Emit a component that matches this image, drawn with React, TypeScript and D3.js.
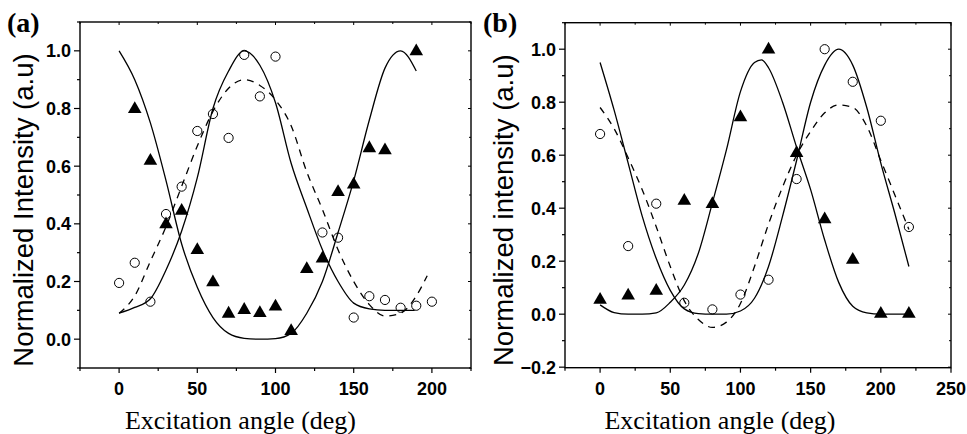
import React, { useEffect, useRef } from "react";
import * as d3 from "d3";

// ---- panel (a) data ----
const aCircleX = [0, 10, 20, 30, 40, 50, 60, 70, 80, 90, 100, 130, 140, 150, 160, 170, 180, 190, 200];
const aCircleY = [0.195, 0.265, 0.13, 0.434, 0.529, 0.722, 0.781, 0.698, 0.986, 0.842, 0.98, 0.37, 0.352, 0.075, 0.149, 0.136, 0.109, 0.116, 0.13];
const aTriX = [10, 20, 30, 40, 50, 60, 70, 80, 90, 100, 110, 120, 130, 140, 150, 160, 170, 190];
const aTriY = [0.8, 0.62, 0.4, 0.447, 0.311, 0.199, 0.09, 0.103, 0.092, 0.115, 0.03, 0.245, 0.281, 0.512, 0.538, 0.664, 0.657, 1.0];
// fitted curves
const aFitTriX = [0, 10, 20, 30, 40, 50, 60, 70, 80, 90, 100, 110, 120, 130, 140, 150, 160, 170, 180, 190];
const aFitTriY = [1.0, 0.9, 0.75, 0.55, 0.33, 0.18, 0.075, 0.02, 0.003, 0, 0.002, 0.02, 0.09, 0.2, 0.37, 0.55, 0.76, 0.94, 1.0, 0.93];
const aFitCircX = [0, 10, 20, 30, 40, 50, 60, 70, 80, 90, 100, 110, 120, 130, 140, 150, 160, 170, 180, 189];
const aFitCircY = [0.09, 0.11, 0.14, 0.24, 0.375, 0.56, 0.8, 0.93, 1.0, 0.95, 0.82, 0.61, 0.455, 0.31, 0.2, 0.125, 0.105, 0.1, 0.1, 0.1];
const aDashX = [0, 10, 20, 30, 40, 50, 60, 70, 80, 90, 100, 110, 120, 130, 140, 150, 160, 170, 180, 190, 197];
const aDashY = [0.09, 0.15, 0.27, 0.39, 0.53, 0.67, 0.79, 0.87, 0.9, 0.88, 0.83, 0.74, 0.58, 0.45, 0.31, 0.2, 0.12, 0.08, 0.09, 0.15, 0.22];

// ---- panel (b) data ----
const bCircleX = [0, 20, 40, 60, 80, 100, 120, 140, 160, 180, 200, 220];
const bCircleY = [0.68, 0.257, 0.417, 0.043, 0.018, 0.074, 0.13, 0.51, 1.0, 0.877, 0.73, 0.329];
const bTriX = [0, 20, 40, 60, 80, 100, 120, 140, 160, 180, 200, 220];
const bTriY = [0.056, 0.072, 0.09, 0.43, 0.417, 0.745, 1.0, 0.61, 0.36, 0.207, 0.003, 0.003];
const bFitTriX = [0, 10, 20, 30, 40, 50, 60, 70, 80, 90, 100, 110, 115, 120, 130, 140, 150, 160, 170, 180, 190, 200, 210, 220];
const bFitTriY = [0.035, 0.006, 0, 0, 0.005, 0.045, 0.11, 0.23, 0.42, 0.62, 0.84, 0.95, 0.96, 0.93, 0.8, 0.63, 0.47, 0.28, 0.12, 0.03, 0.005, 0, 0, 0];
const bFitCircX = [0, 10, 20, 30, 40, 50, 60, 70, 80, 90, 100, 110, 120, 130, 140, 150, 160, 170, 180, 190, 200, 210, 220];
const bFitCircY = [0.95, 0.77, 0.57, 0.37, 0.21, 0.09, 0.02, 0.002, 0, 0, 0.012, 0.06, 0.18, 0.37, 0.58, 0.8, 0.94, 1.0, 0.94, 0.78, 0.57, 0.38, 0.18];
const bDashX = [0, 10, 20, 30, 40, 50, 60, 70, 80, 90, 100, 110, 120, 130, 140, 150, 160, 170, 180, 190, 200, 210, 220];
const bDashY = [0.78, 0.7, 0.59, 0.47, 0.33, 0.18, 0.05, -0.02, -0.05, -0.03, 0.04, 0.18, 0.34, 0.48, 0.6, 0.69, 0.76, 0.79, 0.78, 0.71, 0.58, 0.45, 0.32];

// ---- axes ----
const aXTicks = [0, 50, 100, 150, 200];
const aYTicks = [0.0, 0.2, 0.4, 0.6, 0.8, 1.0];
const bXTicks = [0, 50, 100, 150, 200, 250];
const bYTicks = [-0.2, 0.0, 0.2, 0.4, 0.6, 0.8, 1.0];

const zip = (xs: number[], ys: number[]) => xs.map((x, i) => [x, ys[i]] as [number, number]);

const SANS = "'Liberation Sans', Arial, sans-serif";
const SERIF = "'Liberation Serif', 'Times New Roman', serif";

function drawPanel(svg: any, cfg: any) {
  const { box, xDomain, yDomain, xTicks, yTicks, xMinor, yMinor } = cfg;
  const x = d3.scaleLinear().domain(xDomain).range([box.left, box.right]);
  const y = d3.scaleLinear().domain(yDomain).range([box.bottom, box.top]);
  const g = svg.append("g");

  const line = d3
    .line<[number, number]>()
    .x((d) => x(d[0]))
    .y((d) => y(d[1]))
    .curve(d3.curveMonotoneX);

  // fits
  cfg.solids.forEach((pts: [number, number][]) => {
    g.append("path").datum(pts).attr("d", line).attr("fill", "none")
      .attr("stroke", "#000").attr("stroke-width", 1.3);
  });
  g.append("path").datum(cfg.dashed).attr("d", line).attr("fill", "none")
    .attr("stroke", "#000").attr("stroke-width", 1.3).attr("stroke-dasharray", "7,6");

  // open circles
  g.selectAll(".c").data(cfg.circles).enter().append("circle")
    .attr("cx", (d: any) => x(d[0])).attr("cy", (d: any) => y(d[1])).attr("r", 4.6)
    .attr("fill", "none").attr("stroke", "#000").attr("stroke-width", 1);

  // filled triangles
  const tri = d3.symbol().type(d3.symbolTriangle).size(80);
  g.selectAll(".t").data(cfg.triangles).enter().append("path")
    .attr("d", tri as any)
    .attr("transform", (d: any) => `translate(${x(d[0])},${y(d[1]) + 0.5})`)
    .attr("fill", "#000");

  // frame
  g.append("rect").attr("x", box.left).attr("y", box.top)
    .attr("width", box.right - box.left).attr("height", box.bottom - box.top)
    .attr("fill", "none").attr("stroke", "#000").attr("stroke-width", 1.4);

  // x ticks (bottom outward, top inward)
  xMinor.forEach((v: number) => {
    const major = xTicks.includes(v);
    g.append("line").attr("x1", x(v)).attr("x2", x(v))
      .attr("y1", box.bottom).attr("y2", box.bottom + (major ? 5 : 3))
      .attr("stroke", "#000").attr("stroke-width", 1.2);
    g.append("line").attr("x1", x(v)).attr("x2", x(v))
      .attr("y1", box.top).attr("y2", box.top + (major ? 3 : 2))
      .attr("stroke", "#000").attr("stroke-width", 1);
  });
  xTicks.forEach((v: number) => {
    g.append("text").attr("x", x(v)).attr("y", box.bottom + 27)
      .attr("text-anchor", "middle").style("font-family", SANS)
      .style("font-weight", "bold").style("font-size", "18px").text(d3.format("d")(v));
  });

  // y ticks (left outward, right inward)
  yMinor.forEach((v: number) => {
    const major = yTicks.some((t: number) => Math.abs(t - v) < 1e-6);
    g.append("line").attr("y1", y(v)).attr("y2", y(v))
      .attr("x1", box.left).attr("x2", box.left - (major ? 6 : 3))
      .attr("stroke", "#000").attr("stroke-width", 1.2);
    g.append("line").attr("y1", y(v)).attr("y2", y(v))
      .attr("x1", box.right).attr("x2", box.right - (major ? 3 : 2))
      .attr("stroke", "#000").attr("stroke-width", 1);
  });
  yTicks.forEach((v: number) => {
    g.append("text").attr("x", box.left - 9).attr("y", y(v))
      .attr("dy", "0.36em").attr("text-anchor", "end").style("font-family", SANS)
      .style("font-weight", "bold").style("font-size", "18px").text(d3.format(".1f")(v));
  });

  // titles
  g.append("text").attr("x", (box.left + box.right) / 2 + cfg.xTitleShift).attr("y", 429)
    .attr("text-anchor", "middle").style("font-family", SERIF).style("font-size", "26px")
    .text("Excitation angle (deg)");
  g.append("text")
    .attr("transform", `translate(${cfg.yTitleX},${(box.top + box.bottom) / 2 + 15}) rotate(-90)`)
    .attr("text-anchor", "middle").style("font-family", SANS).style("font-size", "27.5px")
    .text(cfg.yTitle);
  g.append("text").attr("x", cfg.tagX).attr("y", 32)
    .style("font-family", SERIF).style("font-weight", "bold").style("font-size", "28px")
    .text(cfg.tag);
}

export default function App() {
  const ref = useRef<SVGSVGElement>(null);

  useEffect(() => {
    const svg = d3.select(ref.current);
    svg.selectAll("*").remove();

    drawPanel(svg, {
      box: { left: 80, right: 471, top: 22, bottom: 368 },
      xDomain: [-25, 225],
      yDomain: [-0.1, 1.1],
      xTicks: aXTicks,
      yTicks: aYTicks,
      xMinor: d3.range(-25, 226, 25),
      yMinor: d3.range(-0.1, 1.101, 0.1).map((v) => Math.round(v * 10) / 10),
      solids: [zip(aFitTriX, aFitTriY), zip(aFitCircX, aFitCircY)],
      dashed: zip(aDashX, aDashY),
      circles: zip(aCircleX, aCircleY),
      triangles: zip(aTriX, aTriY),
      yTitle: "Normalized Intensity (a.u)",
      yTitleX: 33,
      xTitleShift: -35,
      tag: "(a)",
      tagX: 7,
    });

    drawPanel(svg, {
      box: { left: 565, right: 951, top: 22.7, bottom: 367.7 },
      xDomain: [-25, 250],
      yDomain: [-0.202, 1.1],
      xTicks: bXTicks,
      yTicks: bYTicks,
      xMinor: d3.range(-25, 251, 25),
      yMinor: d3.range(-0.2, 1.101, 0.1).map((v) => Math.round(v * 10) / 10),
      solids: [zip(bFitTriX, bFitTriY), zip(bFitCircX, bFitCircY)],
      dashed: zip(bDashX, bDashY),
      circles: zip(bCircleX, bCircleY),
      triangles: zip(bTriX, bTriY),
      yTitle: "Normalized intensity (a.u)",
      yTitleX: 513,
      xTitleShift: -38,
      tag: "(b)",
      tagX: 483,
    });
  }, []);

  return (
    <svg
      ref={ref}
      width={967}
      height={434}
      style={{ position: "absolute", left: 0, top: 0, background: "#fff" }}
    />
  );
}
